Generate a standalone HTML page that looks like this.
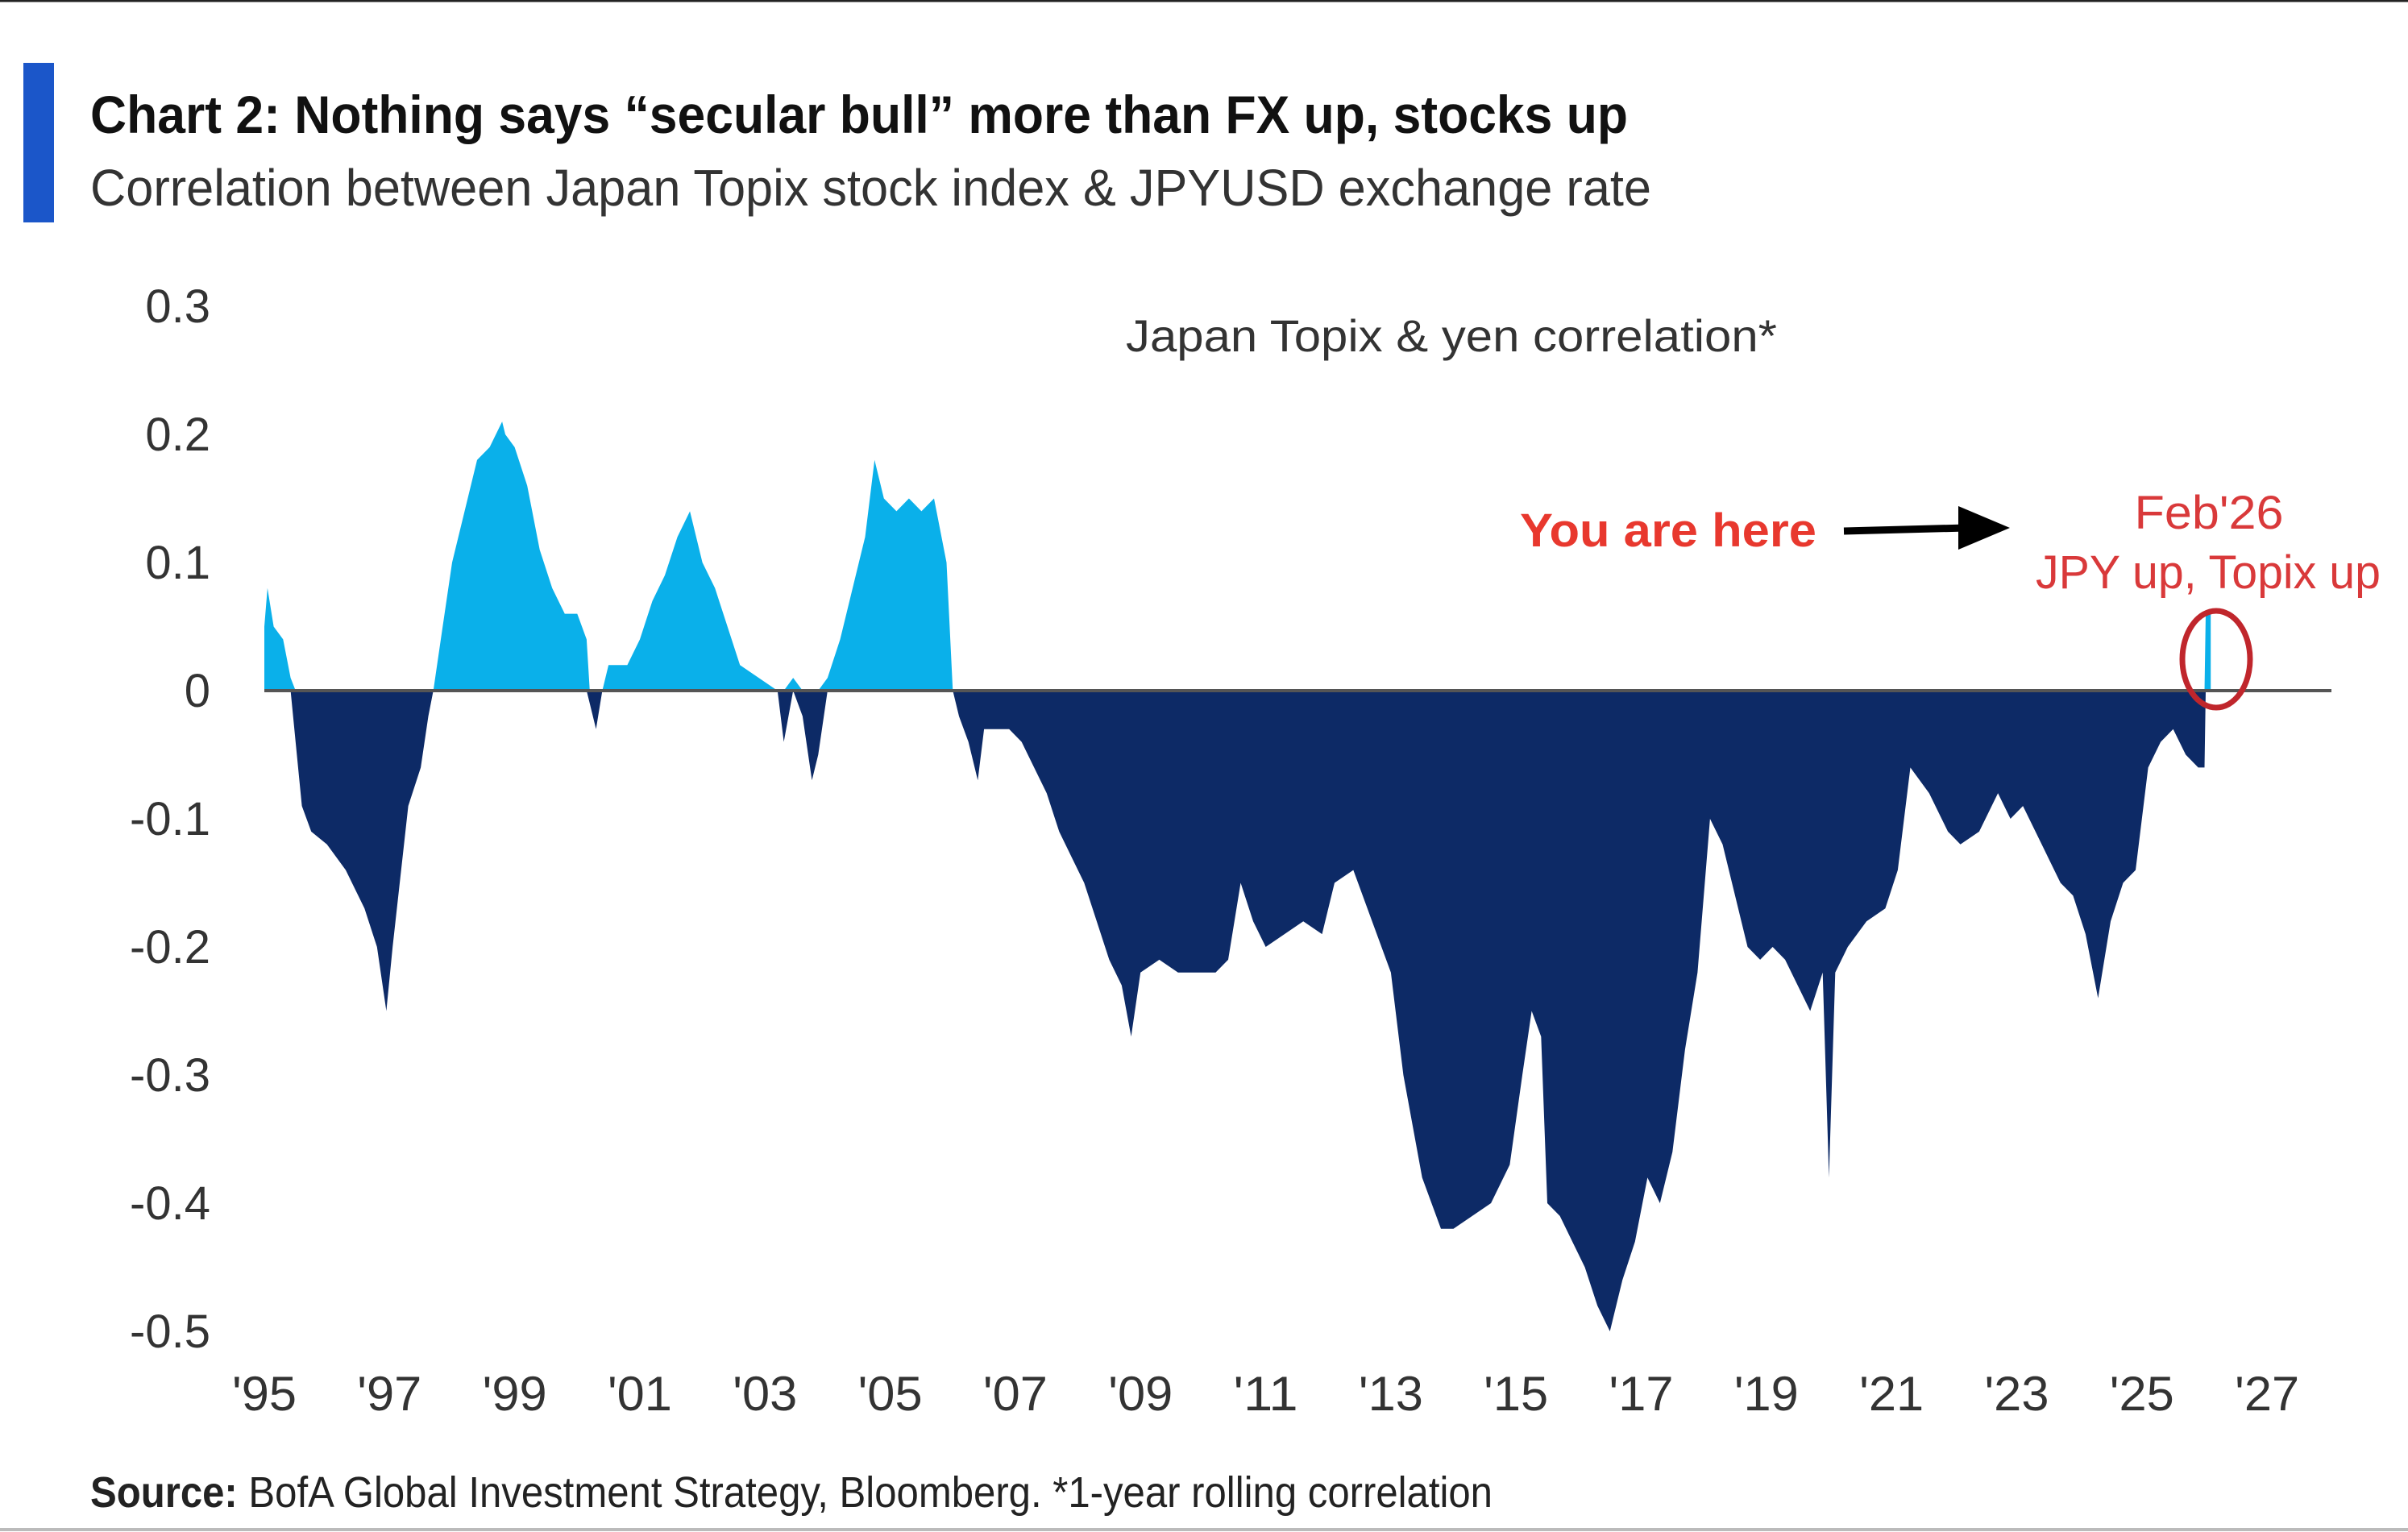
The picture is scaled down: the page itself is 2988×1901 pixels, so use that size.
<!DOCTYPE html>
<html><head><meta charset="utf-8"><style>
html,body{margin:0;padding:0;background:#fff;}
svg{display:block;font-family:"Liberation Sans",sans-serif;}
</style></head><body>
<svg width="2988" height="1901" viewBox="0 0 2988 1901">
<line x1="0" y1="1" x2="2988" y2="1" stroke="#222" stroke-width="3"/>
<line x1="0" y1="1898" x2="2988" y2="1898" stroke="#bbb" stroke-width="4"/>
<rect x="29" y="78" width="38" height="198" fill="#1b56c9"/>
<text x="112" y="165" font-size="66" font-weight="bold" fill="#111" textLength="1908" lengthAdjust="spacingAndGlyphs">Chart 2: Nothing says “secular bull” more than FX up, stocks up</text>
<text x="112" y="255" font-size="64" fill="#333" textLength="1937" lengthAdjust="spacingAndGlyphs">Correlation between Japan Topix stock index &amp; JPYUSD exchange rate</text>
<g id="yticks"></g>
<g id="xticks"></g>
<g id="series"></g>
<line id="zero" stroke="#555" stroke-width="4"/>
<text x="1397" y="436" font-size="56" fill="#333" textLength="808" lengthAdjust="spacingAndGlyphs">Japan Topix &amp; yen correlation*</text>
<text x="1886" y="678" font-size="58" font-weight="bold" fill="#e8382e" textLength="368" lengthAdjust="spacingAndGlyphs">You are here</text>
<g>
<line x1="2288" y1="659" x2="2440" y2="655" stroke="#000" stroke-width="9"/>
<polygon points="2430,628 2494,655 2430,682" fill="#000"/>
</g>
<text x="2741" y="656" font-size="58" fill="#d9393a" text-anchor="middle" textLength="185" lengthAdjust="spacingAndGlyphs">Feb'26</text>
<text x="2740" y="730" font-size="58" fill="#d9393a" text-anchor="middle" textLength="428" lengthAdjust="spacingAndGlyphs">JPY up, Topix up</text>
<ellipse cx="2750" cy="818" rx="42" ry="60" fill="none" stroke="#c0262c" stroke-width="7"/>
<text x="112" y="1870" font-size="54" fill="#222" textLength="1740" lengthAdjust="spacingAndGlyphs"><tspan font-weight="bold">Source:</tspan> BofA Global Investment Strategy, Bloomberg. *1-year rolling correlation</text>
</svg>
<script>
const yTickValues=[0.3,0.2,0.1,0,-0.1,-0.2,-0.3,-0.4,-0.5];
const yTickLabels=["0.3","0.2","0.1","0","-0.1","-0.2","-0.3","-0.4","-0.5"];
const xTickYears=[1995,1997,1999,2001,2003,2005,2007,2009,2011,2013,2015,2017,2019,2021,2023,2025,2027];
const xTickLabels=["'95","'97","'99","'01","'03","'05","'07","'09","'11","'13","'15","'17","'19","'21","'23","'25","'27"];
const dates=[1995.0,1995.05,1995.15,1995.3,1995.42,1995.5,1995.6,1995.75,1996.0,1996.3,1996.6,1996.8,1996.95,1997.05,1997.3,1997.5,1997.62,1997.7,1997.85,1998.0,1998.2,1998.4,1998.6,1998.8,1998.85,1999.0,1999.2,1999.4,1999.6,1999.8,2000.0,2000.15,2000.2,2000.3,2000.4,2000.5,2000.8,2001.0,2001.2,2001.4,2001.6,2001.8,2002.0,2002.2,2002.4,2002.6,2002.9,2003.2,2003.3,2003.45,2003.6,2003.75,2003.85,2004.0,2004.2,2004.4,2004.6,2004.75,2004.9,2005.1,2005.3,2005.5,2005.7,2005.9,2006.0,2006.1,2006.25,2006.4,2006.5,2006.7,2006.9,2007.1,2007.3,2007.5,2007.7,2007.9,2008.1,2008.3,2008.5,2008.7,2008.85,2009.0,2009.3,2009.6,2009.9,2010.2,2010.4,2010.6,2010.8,2011.0,2011.3,2011.6,2011.9,2012.1,2012.4,2012.7,2013.0,2013.2,2013.5,2013.8,2014.0,2014.3,2014.6,2014.9,2015.1,2015.25,2015.4,2015.5,2015.7,2015.9,2016.1,2016.3,2016.5,2016.7,2016.9,2017.1,2017.3,2017.5,2017.7,2017.9,2018.1,2018.3,2018.5,2018.7,2018.9,2019.1,2019.3,2019.5,2019.7,2019.9,2020.0,2020.1,2020.3,2020.6,2020.9,2021.1,2021.3,2021.6,2021.9,2022.1,2022.4,2022.7,2022.9,2023.1,2023.4,2023.7,2023.9,2024.1,2024.3,2024.5,2024.7,2024.9,2025.1,2025.3,2025.5,2025.7,2025.9,2026.0,2026.02,2026.1];
const values=[0.05,0.08,0.05,0.04,0.01,-0.04,-0.09,-0.11,-0.12,-0.14,-0.17,-0.2,-0.25,-0.2,-0.09,-0.06,-0.02,0.0,0.05,0.1,0.14,0.18,0.19,0.21,0.2,0.19,0.16,0.11,0.08,0.06,0.06,0.04,-0.01,-0.03,0.0,0.02,0.02,0.04,0.07,0.09,0.12,0.14,0.1,0.08,0.05,0.02,0.01,0.0,-0.04,0.01,-0.02,-0.07,-0.05,0.01,0.04,0.08,0.12,0.18,0.15,0.14,0.15,0.14,0.15,0.1,0.0,-0.02,-0.04,-0.07,-0.03,-0.03,-0.03,-0.04,-0.06,-0.08,-0.11,-0.13,-0.15,-0.18,-0.21,-0.23,-0.27,-0.22,-0.21,-0.22,-0.22,-0.22,-0.21,-0.15,-0.18,-0.2,-0.19,-0.18,-0.19,-0.15,-0.14,-0.18,-0.22,-0.3,-0.38,-0.42,-0.42,-0.41,-0.4,-0.37,-0.3,-0.25,-0.27,-0.4,-0.41,-0.43,-0.45,-0.48,-0.5,-0.46,-0.43,-0.38,-0.4,-0.36,-0.28,-0.22,-0.1,-0.12,-0.16,-0.2,-0.21,-0.2,-0.21,-0.23,-0.25,-0.22,-0.38,-0.22,-0.2,-0.18,-0.17,-0.14,-0.06,-0.08,-0.11,-0.12,-0.11,-0.08,-0.1,-0.09,-0.12,-0.15,-0.16,-0.19,-0.24,-0.18,-0.15,-0.14,-0.06,-0.04,-0.03,-0.05,-0.06,-0.06,0.06,0.06];
const NS="http://www.w3.org/2000/svg";
const x0=328,pxYear=77.66,y0=857,pxUnit=1590;
function xScale(yr){return x0+(yr-1995)*pxYear;}
function yScale(v){return y0-v*pxUnit;}
const yt=document.getElementById('yticks');
yTickValues.forEach((v,i)=>{const t=document.createElementNS(NS,'text');


t.setAttribute('x',261);t.setAttribute('y',yScale(v)+20);t.setAttribute('text-anchor','end');
t.setAttribute('font-size','58');t.setAttribute('fill','#333');t.textContent=yTickLabels[i];yt.appendChild(t);});
const xt=document.getElementById('xticks');
xTickYears.forEach((yr,i)=>{const t=document.createElementNS(NS,'text');


t.setAttribute('x',xScale(yr));t.setAttribute('y',1750);t.setAttribute('text-anchor','middle');
t.setAttribute('font-size','60');t.setAttribute('fill','#333');t.setAttribute('textLength','80');t.setAttribute('lengthAdjust','spacingAndGlyphs');t.textContent=xTickLabels[i];xt.appendChild(t);});
function areaPath(fn){let d='M'+xScale(dates[0])+','+y0;
dates.forEach((dt,i)=>{d+=' L'+xScale(dt).toFixed(1)+','+yScale(fn(values[i])).toFixed(1);});
d+=' L'+xScale(dates[dates.length-1])+','+y0+' Z';return d;}
const g=document.getElementById('series');
const pos=document.createElementNS(NS,'path');


pos.setAttribute('d',areaPath(v=>Math.max(v,0)));pos.setAttribute('fill','#0ab0ea');g.appendChild(pos);
const neg=document.createElementNS(NS,'path');


neg.setAttribute('d',areaPath(v=>Math.min(v,0)));neg.setAttribute('fill','#0d2a66');g.appendChild(neg);
const z=document.getElementById('zero');
z.setAttribute('x1',xScale(1995));z.setAttribute('x2',2893);z.setAttribute('y1',y0);z.setAttribute('y2',y0);
</script>
</body></html>
